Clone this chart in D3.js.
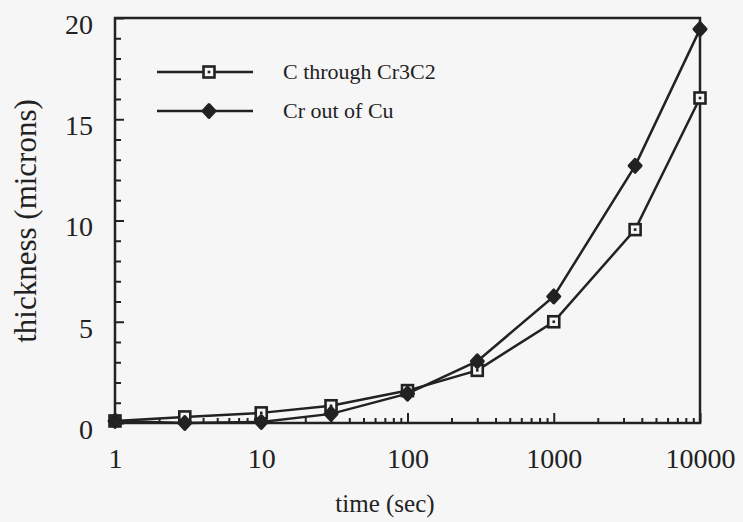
<!DOCTYPE html>
<html>
<head>
<meta charset="utf-8">
<script src="https://cdn.jsdelivr.net/npm/d3@7"></script>
<style>
  html, body { margin: 0; padding: 0; background: #f6f6f6; }
  svg { display: block; }
  text { font-family: "Liberation Serif", "DejaVu Serif", serif; fill: #222; }
</style>
</head>
<body>
<svg id="chart" width="743" height="522"></svg>
<script>
// Growth time points (seconds)
const times = [1, 3, 10, 30, 100, 300, 1000, 3600, 10000];
// Layer thickness (microns) for each diffusion path
const cThroughCr3C2 = [0.1, 0.3, 0.5, 0.85, 1.6, 2.6, 5.0, 9.55, 16.05];
const crOutOfCu = [0.1, 0.0, 0.05, 0.45, 1.45, 3.05, 6.25, 12.7, 19.45];
const seriesNames = ["C through Cr3C2", "Cr out of Cu"];
const xTickLabels = [1, 10, 100, 1000, 10000];
const yTickLabels = [0, 5, 10, 15, 20];

const ink = "#222";
const svg = d3.select("#chart");
const plotLeft = 115, plotRight = 700, plotTop = 18, plotBottom = 423;

const x = d3.scaleLog().domain([1, 10000]).range([plotLeft, plotRight]);
const y = d3.scaleLinear().domain([0, 20]).range([plotBottom, plotTop]);

// Minor ticks: 2..9 in every decade, every unit on the thickness axis
const xMinor = [];
for (let dec = 1; dec < 10000; dec *= 10) {
  for (let k = 2; k <= 9; k++) xMinor.push(dec * k);
}
const yMinor = d3.range(0, 21).filter(v => v % 5 !== 0);

function styleAxis(g) {
  g.select(".domain").remove();
  g.selectAll(".tick line").attr("stroke", ink).attr("stroke-width", 2);
}

// x axis
svg.append("g")
  .attr("transform", `translate(0,${plotBottom})`)
  .call(d3.axisBottom(x).tickValues(xMinor).tickSize(-5).tickFormat(""))
  .call(styleAxis);
svg.append("g")
  .attr("transform", `translate(0,${plotBottom})`)
  .call(d3.axisBottom(x).tickValues(xTickLabels).tickSize(-10).tickPadding(25).tickFormat(d3.format("d")))
  .call(styleAxis)
  .call(g => g.selectAll(".tick text").attr("font-size", 28).attr("fill", ink)
    .attr("font-family", "Liberation Serif, serif"));

// y axis
svg.append("g")
  .attr("transform", `translate(${plotLeft},0)`)
  .call(d3.axisLeft(y).tickValues(yMinor).tickSize(-6).tickFormat(""))
  .call(styleAxis);
svg.append("g")
  .attr("transform", `translate(${plotLeft},0)`)
  .call(d3.axisLeft(y).tickValues(yTickLabels).tickSize(-9).tickPadding(22).tickFormat(d3.format("d")))
  .call(styleAxis)
  .call(g => g.selectAll(".tick text").attr("font-size", 28).attr("fill", ink)
    .attr("dy", "0.55em").attr("font-family", "Liberation Serif, serif"));

// plot frame
svg.append("rect")
  .attr("x", plotLeft).attr("y", plotTop)
  .attr("width", plotRight - plotLeft).attr("height", plotBottom - plotTop)
  .attr("fill", "none").attr("stroke", ink).attr("stroke-width", 2.5);

// axis titles
svg.append("text")
  .attr("x", 385).attr("y", 512)
  .attr("text-anchor", "middle").attr("font-size", 25)
  .text("time (sec)");
svg.append("text")
  .attr("transform", `translate(36,221) rotate(-90)`)
  .attr("text-anchor", "middle").attr("font-size", 31)
  .text("thickness (microns)");

const line = d3.line().x(d => x(d.t)).y(d => y(d.v));
const squareData = times.map((t, i) => ({ t, v: cThroughCr3C2[i] }));
const diamondData = times.map((t, i) => ({ t, v: crOutOfCu[i] }));

function drawSquare(g, cx, cy) {
  g.append("rect").attr("x", cx - 5.5).attr("y", cy - 5.5).attr("width", 11).attr("height", 11)
    .attr("fill", "#f6f6f6").attr("stroke", ink).attr("stroke-width", 2.6);
  g.append("rect").attr("x", cx - 1.3).attr("y", cy - 1.3).attr("width", 2.6).attr("height", 2.6)
    .attr("fill", ink);
}
// squat filled diamond with rounded corners
const diamondPath = "M0,-6.5L6,0L0,6.5L-6,0Z";
function drawDiamond(g, cx, cy) {
  g.append("path").attr("d", diamondPath).attr("transform", `translate(${cx},${cy})`)
    .attr("fill", ink).attr("stroke", ink).attr("stroke-width", 3).attr("stroke-linejoin", "round");
}

// series lines
svg.append("path").datum(squareData).attr("d", line)
  .attr("fill", "none").attr("stroke", ink).attr("stroke-width", 2.5);
svg.append("path").datum(diamondData).attr("d", line)
  .attr("fill", "none").attr("stroke", ink).attr("stroke-width", 2.5);

// markers (filled diamonds sit above the open squares)
const marks = svg.append("g");
squareData.forEach(d => drawSquare(marks, x(d.t), y(d.v)));
diamondData.forEach(d => drawDiamond(marks, x(d.t), y(d.v)));

// legend
const legend = svg.append("g");
const legendRows = [
  { name: seriesNames[0], yPos: 72, draw: drawSquare },
  { name: seriesNames[1], yPos: 111, draw: drawDiamond }
];
legendRows.forEach(r => {
  legend.append("line").attr("x1", 157).attr("x2", 253).attr("y1", r.yPos).attr("y2", r.yPos)
    .attr("stroke", ink).attr("stroke-width", 2.5);
  r.draw(legend, 209, r.yPos);
  legend.append("text").attr("x", 283).attr("y", r.yPos + 7).attr("font-size", 22).text(r.name);
});
</script>
</body>
</html>
